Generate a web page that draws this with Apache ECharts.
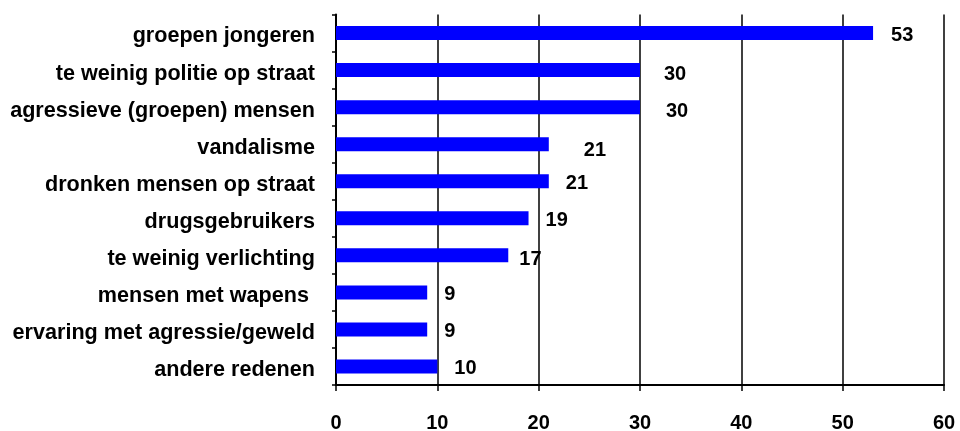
<!DOCTYPE html>
<html>
<head>
<meta charset="utf-8">
<script src="https://cdn.jsdelivr.net/npm/echarts@6/dist/echarts.min.js"></script>
<style>
html,body{margin:0;padding:0;background:#fff;}
#chart{width:960px;height:431px;}
</style>
</head>
<body>
<div id="chart"></div>
<script>
// ---- data ----
const categories = [
  "groepen jongeren",
  "te weinig politie op straat",
  "agressieve (groepen) mensen",
  "vandalisme",
  "dronken mensen op straat",
  "drugsgebruikers",
  "te weinig verlichting",
  "mensen met wapens ",
  "ervaring met agressie/geweld",
  "andere redenen"
];
const values = [53, 30, 30, 21, 21, 19, 17, 9, 9, 10];
const xTicks = [0, 10, 20, 30, 40, 50, 60];

// ---- label placement tweaks (layout only) ----
const labelNudge = {0: [1, 2.5], 1: [7, 4], 2: [9, 4.5], 3: [18, 6.5], 6: [-6, 4]};

const FONT = '"Liberation Sans", Arial, sans-serif';
const seriesData = values.map((v, i) => {
  const item = { value: v };
  if (labelNudge[i]) item.label = { offset: labelNudge[i] };
  return item;
});

const chart = echarts.init(document.getElementById('chart'), null, {renderer: 'canvas'});
chart.setOption({
  animation: false,
  backgroundColor: '#ffffff',
  grid: { left: 336, right: 16, top: 14.5, bottom: 46, containLabel: false, outerBoundsMode: 'none' },
  xAxis: {
    type: 'value',
    min: xTicks[0],
    max: xTicks[xTicks.length - 1],
    interval: xTicks[1] - xTicks[0],
    axisLine: { show: true, lineStyle: { color: '#000', width: 2 } },
    axisTick: { show: true, length: 6, lineStyle: { color: '#000', width: 1.5 } },
    axisLabel: {
      margin: 28, color: '#000', fontFamily: FONT, fontWeight: 'bold', fontSize: 20
    },
    splitLine: { show: true, lineStyle: { color: '#000', width: 1.5 } }
  },
  yAxis: {
    type: 'category',
    data: categories,
    inverse: true,
    axisLine: { show: true, lineStyle: { color: '#000', width: 2 } },
    axisTick: { show: true, length: 4, lineStyle: { color: '#000', width: 1.5 } },
    axisLabel: {
      margin: 21, color: '#000', fontFamily: FONT, fontWeight: 'bold', fontSize: 21.6,
      formatter: v => '{t|' + v + '}',
      rich: {
        t: {
          color: '#000', fontFamily: FONT, fontWeight: 'bold', fontSize: 21.6,
          padding: [7, 0, 0, 0]
        }
      }
    },
    splitLine: { show: false }
  },
  series: [{
    type: 'bar',
    data: seriesData,
    barWidth: 14,
    itemStyle: { color: '#0000ff' },
    label: {
      show: true,
      position: 'right',
      distance: 17,
      offset: [0, 2],
      color: '#000',
      fontFamily: FONT,
      fontWeight: 'bold',
      fontSize: 20
    }
  }]
});
</script>
</body>
</html>
